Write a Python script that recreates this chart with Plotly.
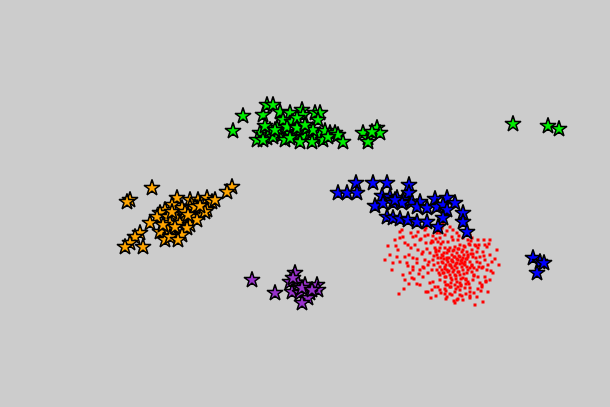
import plotly.graph_objects as go

# cluster coordinates (y grows downward)
green_x = [243, 233, 263, 267, 273, 280, 290, 302, 303, 315, 320, 318, 283, 292, 297,
           260, 257, 267, 273, 282, 287, 293, 300, 305, 310, 315, 320, 323, 330, 335,
           338, 343, 277, 287, 297, 307, 313, 270, 263, 285, 300, 312, 363, 368, 368,
           377, 380, 372, 513, 548, 559, 265, 275, 290, 305, 325, 328]
green_y = [116, 131, 115, 105, 105, 112, 113, 110, 115, 113, 113, 120, 120, 122, 118,
           133, 140, 138, 137, 135, 132, 137, 133, 137, 133, 138, 135, 140, 133, 133,
           135, 142, 128, 127, 128, 128, 130, 130, 140, 140, 142, 142, 133, 138, 142,
           128, 133, 132, 124, 126, 129, 126, 130, 138, 125, 131, 137]

orange_x = [152, 130, 127, 232, 227, 177, 190, 198, 207, 212, 207, 197, 190, 182, 172,
            165, 160, 157, 168, 177, 185, 193, 200, 205, 150, 170, 180, 190, 197, 160,
            168, 177, 187, 140, 135, 143, 130, 125, 165, 170, 182, 178, 172, 185, 195,
            163, 175, 188, 200, 215]
orange_y = [188, 200, 202, 187, 192, 198, 200, 200, 198, 202, 210, 208, 207, 208, 205,
            210, 213, 217, 217, 218, 217, 217, 213, 212, 223, 223, 223, 225, 220, 232,
            230, 233, 228, 233, 237, 247, 243, 247, 240, 237, 235, 240, 212, 212, 207,
            225, 227, 215, 206, 200]

blue_x = [356, 373, 387, 338, 347, 357, 409, 409, 382, 390, 397, 403, 412, 420, 435,
          447, 455, 375, 383, 393, 402, 417, 427, 437, 443, 447, 463, 463, 467, 387,
          393, 400, 408, 417, 427, 443, 438, 533, 540, 537, 544, 395]
blue_y = [183, 183, 183, 193, 193, 193, 185, 193, 196, 197, 198, 200, 202, 202, 199,
          198, 203, 206, 203, 203, 203, 207, 208, 207, 205, 210, 213, 222, 232, 217,
          218, 219, 220, 222, 222, 218, 227, 258, 262, 273, 263, 200]

purple_x = [252, 275, 295, 290, 298, 305, 317, 318, 292, 300, 310, 308, 302, 293, 302, 312]
purple_y = [280, 293, 273, 282, 283, 285, 285, 290, 292, 293, 293, 298, 303, 278, 288, 290]

red_x = [425, 428, 433, 443, 450, 440, 445, 457, 452, 420, 413, 403, 400, 408, 405,
         415, 398, 390, 397, 409, 400, 407, 392, 410, 405, 413, 418, 423, 425, 430,
         428, 423, 428, 432, 433, 440, 445, 448, 452, 457, 458, 455, 460, 465, 470,
         468, 473, 480, 482, 478, 485, 487, 492, 485, 482, 477, 472, 467, 463, 460,
         455, 450, 445, 440, 437, 442, 447, 452, 457, 462, 467, 472, 477, 480, 473,
         468, 463, 458, 453, 448, 443, 438, 433, 437, 442, 447, 452, 457, 462, 467,
         472, 477, 483, 487, 475, 470, 465, 460, 455, 450, 445, 440, 435, 438, 443,
         448, 453, 458, 463, 468, 440, 433, 493, 497, 488, 477, 463, 460, 470, 483,
         420, 440, 405, 385, 393, 417, 420, 413, 447, 452, 455, 460, 457, 462, 450,
         445, 440, 465, 470, 468, 463, 458, 453, 448, 443, 480, 483, 488, 490, 447,
         452, 438, 457, 428, 413, 423, 460, 400, 395, 425, 470, 478, 490, 485, 468,
         475, 470, 444, 449, 454, 459, 464, 446, 451, 456, 461, 466, 441, 436, 471,
         476, 454, 459, 449, 444, 464, 469, 439, 434, 474, 456, 451, 461, 466, 446,
         418, 426, 431, 436, 411, 402, 396, 388, 495, 499, 479, 484, 474, 466, 455,
         445, 435, 430, 490, 412, 417, 426, 432, 464, 472,
         448, 453, 458, 463, 443, 438, 468, 473, 450, 455, 460, 465, 445, 470, 447,
         452, 457, 462, 442, 467, 449, 454, 459, 444, 464, 446, 451, 456, 461, 466,
         441, 436, 471, 476, 439, 434, 429, 424, 419, 414, 409, 404, 399, 481, 486,
         491, 479, 474, 469, 461, 456, 451, 446, 441, 436, 431, 426, 421, 416, 411,
         484, 489, 478, 472, 459, 453, 447, 442, 437, 432, 427, 422, 417, 408, 403,
         466, 462, 458, 454, 450, 446, 470, 474, 478, 482, 486, 460, 455, 450, 445]
red_y = [236, 235, 236, 223, 227, 233, 235, 233, 237, 240, 237, 237, 238, 245, 243,
         245, 250, 255, 257, 255, 262, 263, 270, 273, 280, 258, 250, 252, 260, 253,
         265, 267, 273, 270, 282, 280, 282, 285, 280, 282, 287, 292, 290, 288, 288,
         282, 280, 283, 287, 277, 277, 270, 262, 260, 268, 270, 272, 273, 278, 275,
         275, 275, 277, 275, 270, 270, 270, 268, 268, 267, 267, 265, 262, 257, 257,
         257, 258, 260, 262, 262, 263, 263, 260, 255, 255, 253, 255, 253, 252, 252,
         250, 252, 252, 247, 245, 245, 247, 245, 247, 248, 248, 248, 248, 242, 242,
         242, 240, 240, 238, 240, 238, 242, 273, 250, 292, 297, 300, 295, 292, 302,
         285, 290, 257, 260, 263, 263, 270, 267, 258, 260, 257, 257, 263, 263, 265,
         267, 267, 262, 262, 270, 270, 272, 272, 272, 273, 263, 267, 265, 255, 297,
         295, 287, 300, 292, 270, 277, 226, 232, 240, 230, 235, 240, 240, 245, 230,
         305, 298, 259, 258, 257, 256, 255, 265, 266, 264, 261, 259, 258, 252, 254,
         258, 250, 249, 251, 253, 246, 244, 273, 265, 268, 279, 283, 285, 279, 285,
         232, 228, 243, 250, 248, 230, 246, 246, 259, 265, 245, 240, 275, 284, 303,
         294, 287, 283, 280, 278, 284, 292, 290, 264, 266,
         250, 251, 249, 250, 256, 258, 255, 254, 265, 266, 264, 265, 269, 268, 260,
         261, 259, 260, 262, 259, 271, 270, 272, 273, 274, 277, 278, 276, 279, 280,
         244, 239, 241, 246, 251, 256, 262, 268, 274, 279, 284, 289, 294, 291, 281,
         271, 267, 276, 284, 286, 289, 287, 291, 293, 296, 298, 243, 239, 236, 233,
         256, 244, 248, 238, 236, 230, 231, 228, 233, 241, 249, 254, 259, 266, 275,
         294, 296, 299, 301, 294, 299, 296, 293, 289, 285, 282, 283, 285, 287, 289]

star_line = dict(color="black", width=1.5)

fig = go.Figure()
fig.add_trace(go.Scatter(x=red_x, y=red_y, mode="markers",
                         marker=dict(symbol="square", size=3, color="#ff0000",
                                     line=dict(width=0))))
fig.add_trace(go.Scatter(x=green_x, y=green_y, mode="markers",
                         marker=dict(symbol="star", size=12, color="#00ee00", line=star_line)))
fig.add_trace(go.Scatter(x=orange_x, y=orange_y, mode="markers",
                         marker=dict(symbol="star", size=12, color="#ffa500", line=star_line)))
fig.add_trace(go.Scatter(x=blue_x, y=blue_y, mode="markers",
                         marker=dict(symbol="star", size=12, color="#0000ff", line=star_line)))
fig.add_trace(go.Scatter(x=purple_x, y=purple_y, mode="markers",
                         marker=dict(symbol="star", size=12, color="#9932cc", line=star_line)))

fig.update_layout(
    width=610, height=407,
    margin=dict(l=0, r=0, t=0, b=0),
    paper_bgcolor="#cccccc", plot_bgcolor="#cccccc",
    showlegend=False,
    xaxis=dict(range=[0, 610], visible=False, showgrid=False, zeroline=False),
    yaxis=dict(range=[407, 0], visible=False, showgrid=False, zeroline=False),
)
fig.write_html("out.html")
